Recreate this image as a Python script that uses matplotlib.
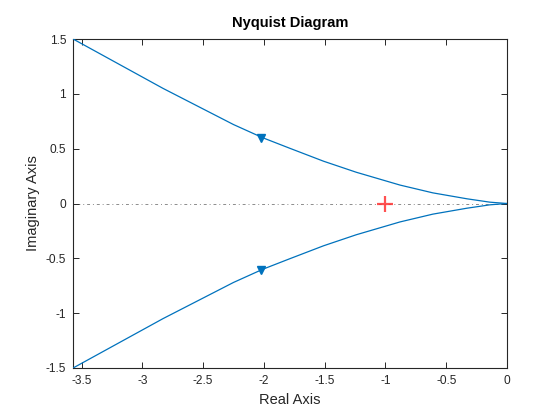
import matplotlib
matplotlib.use("Agg")
import matplotlib.pyplot as plt
import numpy as np

plt.rcParams['font.family'] = ['Liberation Sans', 'DejaVu Sans']
plt.rcParams['axes.unicode_minus'] = False

# Upper branch (negative frequencies) of the Nyquist curve; lower is its mirror
real_vals = [-3.75, -2.83, -2.25, -2.01, -1.79, -1.51, -1.24, -0.88, -0.61, -0.33, -0.14, 0.0]
imag_vals = [1.61, 1.05, 0.72, 0.60, 0.505, 0.386, 0.285, 0.168, 0.097, 0.043, 0.012, 0.0]
# Arrow positions
arrow_re = [-2.02, -2.02]
arrow_im = [0.60, -0.61]
# Critical point
crit_re = [-1.0]
crit_im = [0.0]

xticks = [-3.5, -3, -2.5, -2, -1.5, -1, -0.5, 0]
xticklabels = ['-3.5', '-3', '-2.5', '-2', '-1.5', '-1', '-0.5', '0']
yticks = [-1.5, -1, -0.5, 0, 0.5, 1, 1.5]
yticklabels = ['-1.5', '-1', '-0.5', '0', '0.5', '1', '1.5']

axc = (0.15, 0.15, 0.15)
blue = '#0072BD'

fig = plt.figure(figsize=(5.6, 4.2), dpi=100)
ax = fig.add_axes([73/560, 52/420, 434/560, 329/420])

ax.axhline(0, color=(0.55, 0.55, 0.55), linestyle=(0, (1, 3, 3, 3)), linewidth=0.7, zorder=1)

re = np.array(real_vals)
im = np.array(imag_vals)
ax.plot(re, im, color=blue, linewidth=0.9, zorder=3)
ax.plot(re, -im, color=blue, linewidth=0.9, zorder=3)
ax.plot(arrow_re, arrow_im, linestyle='none', marker='v', markersize=5.5,
        color=blue, zorder=4)
ax.plot(crit_re, crit_im, linestyle='none', marker='+', markersize=11,
        markeredgewidth=1.6, color='#FF3333', alpha=0.85, zorder=5)

ax.set_xlim(-3.57, 0)
ax.set_ylim(-1.5, 1.5)
ax.set_xticks(xticks)
ax.set_xticklabels(xticklabels)
ax.set_yticks(yticks)
ax.set_yticklabels(yticklabels)
ax.tick_params(direction='in', top=True, right=True, length=4, width=0.7,
               colors=axc, labelsize=8.6, pad=5)
for s in ax.spines.values():
    s.set_color(axc)
    s.set_linewidth(0.8)

ax.set_xlabel('Real Axis', fontsize=10.5, color=axc, labelpad=4)
ax.set_ylabel('Imaginary Axis', fontsize=10.5, color=axc, labelpad=4)
ax.set_title('Nyquist Diagram', fontsize=10.5, fontweight='bold', color='black', pad=9)

fig.savefig('out.png', dpi=100)
